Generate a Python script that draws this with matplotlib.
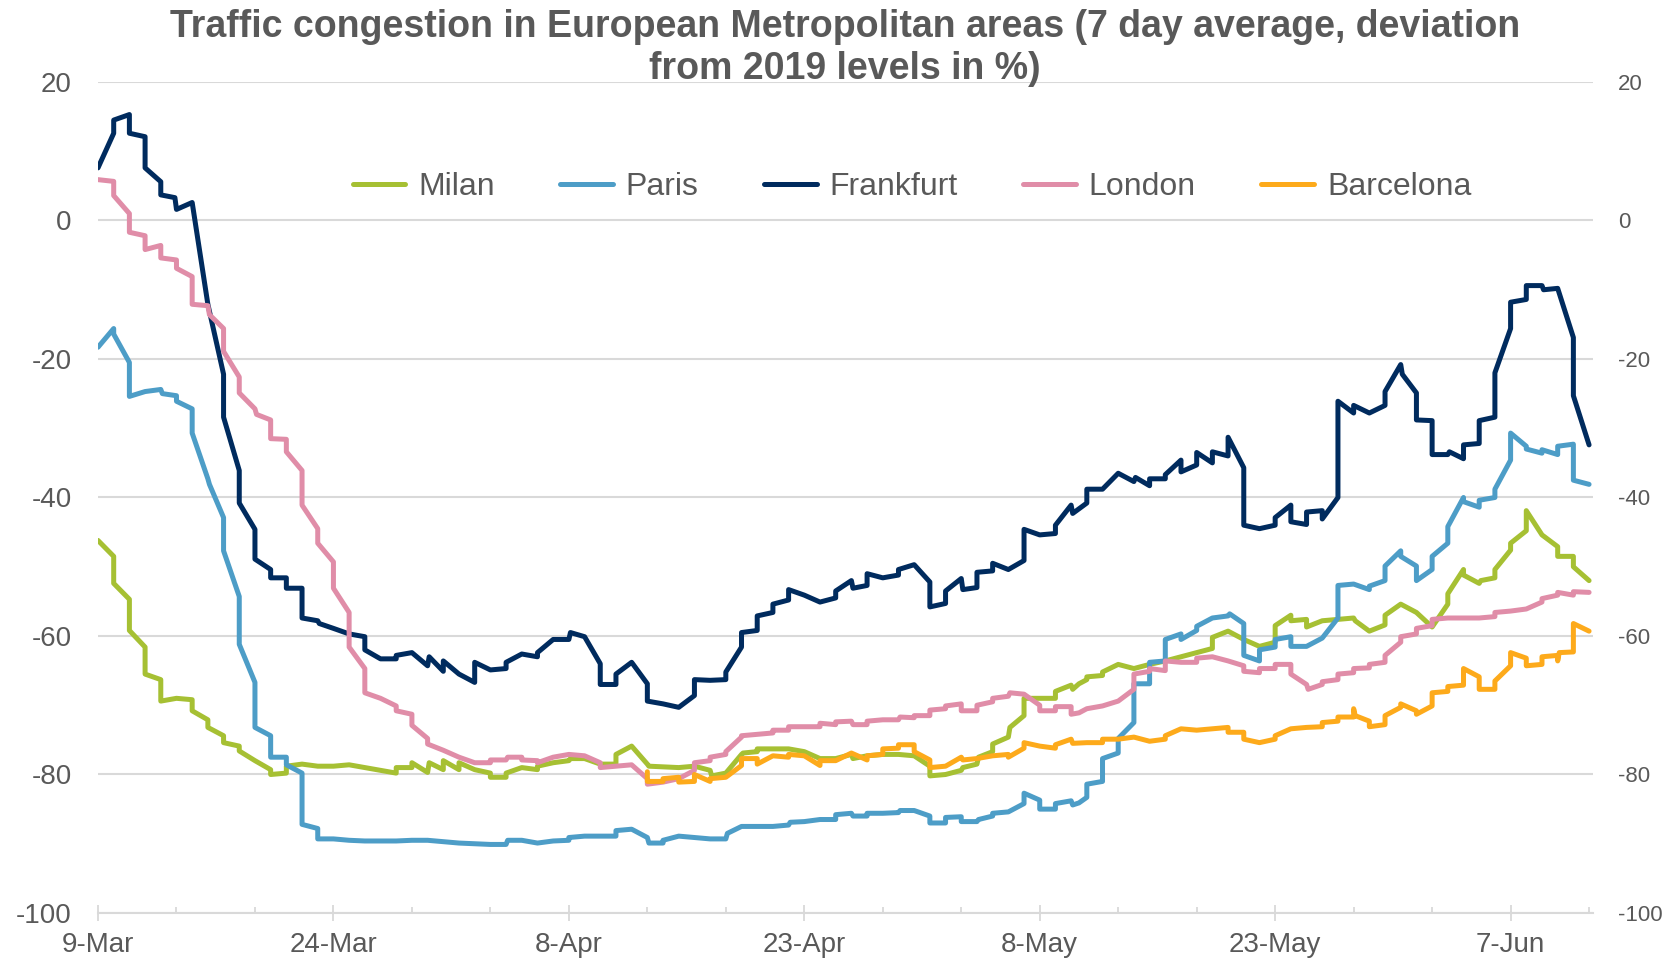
import pandas as pd
import matplotlib.pyplot as plt

plt.rcParams['font.family'] = ['Liberation Sans', 'DejaVu Sans']
plt.rcParams['axes.unicode_minus'] = False

############################## DATA ##############################
# (days after 9-Mar, deviation from 2019 in %)

START = pd.Timestamp("2020-03-09")

milan = [(0, -46.2), (1, -48.5), (1, -52.4), (2, -54.7), (2, -59.2), (3, -61.6), (3, -65.5), (4, -66.3),
         (4, -69.4), (5, -69.0), (6, -69.2), (6, -70.8), (7, -72.1), (7, -73.2), (8, -74.4), (8, -75.4),
         (9, -75.9), (9, -76.6), (10, -78.0), (11, -79.3), (11, -80.0), (12, -79.8), (12, -78.8), (13, -78.5),
         (14, -78.8), (15, -78.8), (16, -78.6), (17, -79.0), (18, -79.4), (19, -79.8), (19, -79.0), (20, -79.0),
         (20, -78.3), (21, -79.7), (21.1, -78.3), (22, -79.3), (22, -78.0), (23, -79.3), (23, -78.3), (24, -79.3),
         (25, -79.8), (25, -80.4), (26, -80.4), (26, -79.8), (27, -79.0), (28, -79.3), (28, -78.8), (29, -78.3),
         (30, -78.0), (30.1, -77.7), (31, -77.7), (32, -78.5), (33, -78.5), (33, -77.1), (34, -75.9), (35, -78.5),
         (35.1, -78.8), (37, -79.0), (38, -78.8), (39, -79.4), (39.1, -80.2), (40, -79.8), (41, -77.1), (41.1, -76.9),
         (42, -76.7), (42, -76.3), (43, -76.3), (44, -76.3), (45, -76.7), (46, -77.7), (47, -77.7), (48, -77.1),
         (48.1, -77.7), (49, -77.3), (50, -77.1), (51, -77.1), (52, -77.3), (53, -78.8), (53, -80.2), (54, -80.0),
         (55, -79.4), (55.1, -79.0), (56, -78.5), (56.1, -77.5), (57, -76.7), (57, -75.6), (58, -74.6), (58.1, -73.2),
         (59, -71.5), (59, -69.0), (60, -69.0), (61, -69.0), (61, -68.0), (62, -67.1), (62.1, -67.7), (62.5, -66.9),
         (63, -66.3), (63, -65.9), (64, -65.7), (64, -65.2), (65, -64.1), (66, -64.7), (67, -64.1), (68, -63.6),
         (69, -63.0), (70, -62.4), (71, -61.8), (71, -60.2), (72, -59.3), (73, -60.5), (74, -61.5), (75, -60.9),
         (75, -58.5), (76, -57.0), (76, -57.8), (77, -57.6), (77, -58.7), (78, -57.8), (79, -57.6), (80, -57.4),
         (80.1, -57.8), (81, -59.3), (82, -58.4), (82, -57.0), (83, -55.4), (84, -56.6), (85, -58.7), (86, -55.4),
         (86, -53.9), (87, -50.4), (87, -51.2), (88, -52.4), (88.1, -52.0), (89, -51.6), (89, -50.4), (90, -47.6),
         (90, -46.6), (91, -44.8), (91, -41.9), (92, -45.4), (93, -47.1), (93, -48.5), (94, -48.5), (94, -50.0),
         (95, -52.0)]

paris = [(0, -18.3), (1, -15.6), (1, -16.4), (2, -20.5), (2, -25.4), (3, -24.7), (4, -24.4), (4.1, -25.0),
         (5, -25.3), (5, -26.1), (6, -27.2), (6, -30.7), (7, -37.3), (7.1, -38.1), (8, -42.9), (8, -47.7),
         (9, -54.3), (9, -61.2), (10, -66.7), (10, -73.2), (11, -74.4), (11, -77.5), (12, -77.5), (12, -78.6),
         (13, -79.8), (13, -87.2), (14, -87.8), (14, -89.3), (15, -89.3), (16, -89.5), (17, -89.6), (18, -89.6),
         (19, -89.6), (20, -89.5), (21, -89.5), (22, -89.7), (23, -89.9), (24, -90.0), (25, -90.1), (26, -90.1),
         (26.1, -89.5), (27, -89.5), (28, -89.9), (29, -89.6), (30, -89.5), (30, -89.1), (31, -88.9), (32, -88.9),
         (33, -88.9), (33, -88.1), (34, -87.9), (35, -89.1), (35.1, -89.9), (36, -89.9), (36, -89.5), (37, -88.9),
         (38, -89.1), (39, -89.3), (40, -89.3), (40.1, -88.5), (41, -87.5), (42, -87.5), (43, -87.5), (44, -87.3),
         (44.1, -86.9), (45, -86.8), (46, -86.5), (47, -86.5), (47, -85.8), (48, -85.6), (48.1, -86.0), (49, -86.0),
         (49, -85.6), (50, -85.6), (51, -85.5), (51.1, -85.2), (52, -85.2), (53, -86.0), (53, -87.0), (54, -87.0),
         (54, -86.2), (55, -86.1), (55, -86.8), (56, -86.8), (56.1, -86.5), (57, -86.0), (57, -85.6), (58, -85.4),
         (59, -84.2), (59, -82.7), (60, -83.7), (60, -85.0), (61, -85.0), (61, -84.2), (62, -83.8), (62.1, -84.4),
         (62.5, -84.1), (63, -83.3), (63, -81.4), (64, -81.0), (64, -77.7), (65, -76.9), (65, -74.8), (66, -72.5),
         (66, -66.9), (67, -66.9), (67, -63.8), (68, -63.6), (68, -60.5), (69, -59.7), (69, -60.5), (70, -59.2),
         (70, -58.6), (71, -57.4), (72, -57.1), (72.1, -56.8), (73, -58.2), (73, -62.8), (74, -63.6), (74, -62.0),
         (75, -61.6), (75, -60.5), (76, -60.1), (76, -61.5), (77, -61.5), (78, -60.3), (79, -57.4), (79, -52.7),
         (80, -52.5), (81, -53.3), (81, -52.8), (82, -52.0), (82, -49.9), (83, -47.7), (83, -48.5), (84, -49.9),
         (84, -52.0), (85, -50.4), (85, -48.5), (86, -46.6), (86, -44.2), (87, -40.0), (87, -40.6), (88, -41.4),
         (88, -40.4), (89, -40.0), (89, -38.8), (90, -34.6), (90, -30.7), (91, -32.6), (91, -33.0), (92, -33.6),
         (92, -33.1), (93, -33.8), (93, -32.6), (94, -32.3), (94, -37.5), (95, -38.1)]

frankfurt = [(0, 7.6), (1, 12.6), (1, 14.5), (2, 15.3), (2, 12.6), (3, 12.1), (3, 7.6), (4, 5.6), (4, 3.7),
             (4.9, 3.3), (5, 1.6), (6, 2.6), (7, -12.1), (8, -22.2), (8, -28.4), (9, -36.1), (9, -40.8),
             (10, -44.6), (10, -48.9), (11, -50.4), (11, -51.6), (12, -51.6), (12, -53.1), (13, -53.1), (13, -57.4),
             (14, -57.8), (14.1, -58.2), (15, -58.9), (16, -59.7), (17, -60.1), (17, -62.0), (18, -63.3), (19, -63.3),
             (19, -62.8), (20, -62.4), (21, -64.3), (21.1, -63.0), (22, -65.1), (22, -63.6), (23, -65.5), (24, -66.7),
             (24, -63.8), (25, -64.9), (26, -64.7), (26, -63.8), (27, -62.6), (28, -63.0), (28, -62.4), (29, -60.5),
             (30, -60.5), (30.1, -59.5), (31, -60.1), (32, -64.0), (32, -67.0), (33, -67.0), (33, -65.5), (34, -63.8),
             (35, -66.9), (35, -69.4), (36, -69.8), (37, -70.3), (38, -68.6), (38, -66.3), (39, -66.4), (40, -66.3),
             (40, -65.2), (41, -61.6), (41, -59.5), (42, -59.2), (42, -57.1), (43, -56.6), (43, -55.4), (44, -54.8),
             (44, -53.3), (45, -54.1), (46, -55.1), (47, -54.5), (47, -53.5), (48, -52.0), (48.1, -53.1), (49, -52.7),
             (49, -51.0), (50, -51.6), (51, -51.2), (51, -50.4), (52, -49.7), (53, -52.2), (53, -55.8), (54, -55.3),
             (54, -53.5), (55, -51.7), (55.1, -53.3), (56, -53.0), (56, -50.8), (57, -50.6), (57, -49.5), (58, -50.4),
             (59, -49.1), (59, -44.6), (60, -45.4), (61, -45.2), (61, -44.0), (62, -41.1), (62.1, -42.3), (63, -40.8),
             (63, -38.8), (64, -38.8), (65, -36.5), (66, -37.7), (66.1, -37.1), (67, -38.3), (67, -37.3), (68, -37.3),
             (68, -36.7), (69, -34.6), (69, -36.3), (70, -35.3), (70, -33.5), (71, -35.0), (71, -33.4), (72, -34.0),
             (72, -31.3), (73, -35.7), (73, -44.0), (74, -44.5), (75, -44.0), (75, -42.9), (76, -41.1), (76, -43.5),
             (77, -43.9), (77, -42.1), (78, -41.9), (78, -43.1), (79, -40.0), (79, -26.1), (80, -27.8), (80, -26.7),
             (81, -27.8), (82, -26.7), (82, -24.7), (83, -20.8), (83.1, -22.2), (84, -24.9), (84, -28.8), (85, -28.9),
             (85, -33.8), (86, -33.8), (86.1, -33.4), (87, -34.4), (87, -32.4), (88, -32.2), (88, -28.9), (89, -28.4),
             (89, -22.0), (90, -15.6), (90, -11.8), (91, -11.4), (91, -9.4), (92, -9.4), (92.1, -10.0), (93, -9.8),
             (94, -16.9), (94, -25.3), (95, -32.4)]

london = [(0, 5.9), (1, 5.65), (1, 3.6), (2, 1.0), (2, -1.7), (3, -2.2), (3, -4.2), (4, -3.6), (4, -5.4),
          (5, -5.7), (5, -6.9), (6, -8.1), (6, -12.1), (7, -12.3), (7.1, -13.6), (8, -15.6), (8, -18.9),
          (9, -22.6), (9, -24.9), (10, -27.2), (10.1, -28.0), (11, -28.8), (11, -31.5), (12, -31.6), (12, -33.4),
          (13, -36.1), (13, -41.1), (14, -44.5), (14, -46.6), (15, -49.3), (15, -53.1), (16, -56.6), (16, -61.6),
          (17, -64.7), (17, -68.2), (18, -69.0), (19, -70.1), (19, -70.8), (20, -71.3), (20, -72.9), (21, -74.8),
          (21, -75.6), (22, -76.5), (23, -77.5), (24, -78.3), (25, -78.3), (25, -77.9), (26, -77.9), (26.1, -77.5),
          (27, -77.5), (27, -77.9), (28, -78.0), (28, -78.3), (29, -77.5), (30, -77.1), (31, -77.3), (32, -78.3),
          (32, -79.0), (33, -78.8), (34, -78.6), (35, -80.6), (35, -81.4), (36, -81.1), (37, -80.6), (38, -79.4),
          (38, -78.3), (39, -78.0), (39, -77.5), (40, -77.1), (40, -76.7), (41, -74.6), (41, -74.4), (42, -74.2),
          (43, -74.0), (43, -73.6), (44, -73.6), (44, -73.1), (45, -73.1), (46, -73.1), (46, -72.6), (47, -72.8),
          (47, -72.4), (48, -72.3), (48.1, -72.8), (49, -72.8), (49, -72.3), (50, -72.1), (51, -72.1), (51.1, -71.7),
          (52, -71.8), (52, -71.5), (53, -71.5), (53, -70.7), (54, -70.5), (54, -70.1), (55, -69.8), (55, -70.8),
          (56, -70.8), (56, -70.0), (57, -69.5), (57, -69.0), (58, -68.7), (58.1, -68.2), (59, -68.4), (60, -70.0),
          (60, -70.8), (61, -70.8), (61, -70.2), (62, -70.2), (62, -71.3), (62.5, -71.1), (63, -70.5), (64, -70.1),
          (65, -69.4), (66, -67.7), (66, -65.5), (67, -65.1), (67, -64.7), (68, -65.0), (68, -63.6), (69, -63.8),
          (70, -63.8), (70, -63.2), (71, -63.0), (72, -63.6), (73, -64.3), (73, -65.1), (74, -65.3), (74, -64.7),
          (75, -64.7), (75, -64.1), (76, -64.1), (76, -65.5), (77, -67.0), (77.1, -67.7), (78, -67.0), (78, -66.6),
          (79, -66.3), (79, -65.5), (80, -65.3), (80, -64.7), (81, -64.6), (81, -64.1), (82, -63.8), (82, -62.8),
          (83, -60.9), (83, -60.1), (84, -59.7), (84, -58.9), (85, -58.5), (85, -57.6), (86, -57.4), (87, -57.4),
          (88, -57.4), (89, -57.2), (89, -56.6), (90, -56.4), (91, -56.1), (92, -55.1), (92, -54.6), (93, -54.1),
          (93, -53.7), (94, -54.1), (94, -53.6), (95, -53.7)]

barcelona = [(35, -79.6), (35, -81.0), (36, -81.0), (36, -80.6), (37, -80.4), (37, -81.1), (38, -81.0),
             (38, -80.0), (39, -81.0), (39, -80.6), (40, -80.4), (41, -78.7), (41, -77.7), (42, -77.7), (42, -78.5),
             (43, -77.3), (44, -77.5), (44, -77.1), (45, -77.3), (46, -78.7), (46, -78.0), (47, -78.0), (48, -76.9),
             (49, -77.9), (49, -77.3), (50, -77.1), (50, -76.3), (51, -76.2), (51, -75.7), (52, -75.7), (52, -76.7),
             (53, -77.9), (53, -79.0), (54, -78.8), (55, -77.5), (55.1, -77.9), (56, -77.7), (57, -77.3), (58, -77.1),
             (58, -77.5), (59, -76.2), (59, -75.4), (60, -75.9), (61, -76.2), (61, -75.7), (62, -74.9), (62.1, -75.5),
             (63, -75.4), (64, -75.4), (64, -74.9), (65, -74.9), (66, -74.6), (67, -75.2), (68, -74.9), (68, -74.4),
             (69, -73.4), (70, -73.6), (71, -73.4), (72, -73.2), (72, -73.9), (73, -73.9), (73, -74.9), (74, -75.4),
             (75, -74.9), (75, -74.4), (76, -73.4), (77, -73.2), (78, -73.1), (78, -72.5), (79, -72.3), (79, -71.7),
             (80, -71.7), (80, -70.5), (80.1, -71.5), (81, -72.3), (81, -73.1), (82, -72.8), (82, -71.5), (83, -70.3),
             (83, -69.8), (84, -70.8), (84, -71.3), (85, -70.1), (85, -68.2), (86, -68.0), (86, -67.3), (87, -67.1),
             (87, -64.7), (88, -65.9), (88, -67.7), (89, -67.7), (89, -66.5), (90, -64.3), (90, -62.4), (91, -63.2),
             (91, -64.3), (92, -64.1), (92, -63.0), (93, -62.8), (93, -63.6), (93.1, -62.4), (94, -62.3), (94, -58.2),
             (95, -59.3)]

cities = ["Milan", "Paris", "Frankfurt", "London", "Barcelona"]
colors = ["#A6C033", "#4D9DC7", "#002B5E", "#E08DA8", "#FDAA1B"]
y_ticks = [20, 0, -20, -40, -60, -80, -100]

TITLE = "Traffic congestion in European Metropolitan areas (7 day average, deviation\nfrom 2019 levels in %)"
GREY = "#595959"
GRID = "#D9D9D9"

############################## PLOT ##############################

W, H = 1673, 964
fig = plt.figure(figsize=(W / 100, H / 100), dpi=100)
ax = fig.add_axes([98 / W, 1 - 913 / H, (1593 - 98) / W, (913 - 82) / H])

for name, data, col in zip(cities, [milan, paris, frankfurt, london, barcelona], colors):
    days = [d for d, v in data]
    vals = [v for d, v in data]
    dates = START + pd.to_timedelta(days, unit="D")
    ax.plot(dates, vals, color=col, lw=3.6, label=name,
            solid_joinstyle="round", solid_capstyle="round")

ax.set_xlim(START, START + pd.Timedelta(days=95.25))
ax.set_ylim(-100, 20)

major = pd.date_range(START, periods=7, freq="15D")
minor = pd.date_range(START, periods=20, freq="5D")
ax.set_xticks(major)
ax.set_xticklabels([f"{d.day}-{d.strftime('%b')}" for d in major])
ax.set_xticks(minor, minor=True)
ax.tick_params(axis="x", which="major", direction="inout", length=12, width=1.3,
               color=GRID, labelsize=20, labelcolor=GREY, pad=8)
ax.tick_params(axis="x", which="minor", direction="in", length=4.5, width=1.3, color=GRID)

ax.set_yticks(y_ticks)
ax.tick_params(axis="y", length=0, labelsize=20, labelcolor=GREY, pad=19)
ax.yaxis.grid(True, color=GRID, lw=1.5)
ax.set_axisbelow(True)

for s in ["top", "left", "right"]:
    ax.spines[s].set_visible(False)
ax.spines["bottom"].set_color(GRID)
ax.spines["bottom"].set_linewidth(1.5)

ax2 = ax.twinx()
ax2.set_ylim(-100, 20)
ax2.set_yticks(y_ticks)
ax2.tick_params(axis="y", length=0, labelsize=16, labelcolor=GREY, pad=18)
for s in ax2.spines.values():
    s.set_visible(False)

ax.legend(loc="center", bbox_to_anchor=(912 / W, 1 - 187 / H), bbox_transform=fig.transFigure,
          ncol=5, frameon=False, fontsize=23, labelcolor=GREY,
          handlelength=1.65, handletextpad=0.4, columnspacing=2.05)

fig.text(845 / W, 1 - 48 / H, TITLE, ha="center", va="center", fontsize=27,
         weight="bold", color=GREY, linespacing=1.2)

fig.savefig("out.png", dpi=100)
